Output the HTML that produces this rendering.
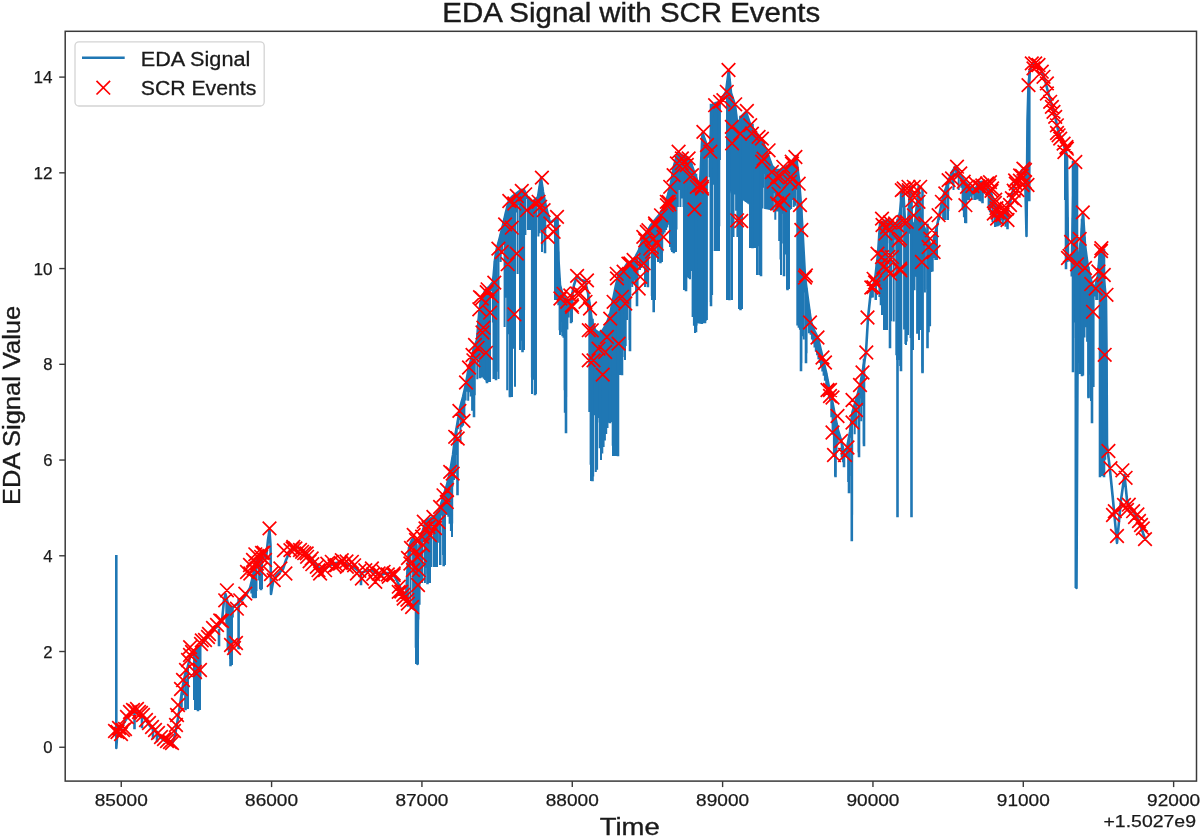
<!DOCTYPE html><html><head><meta charset="utf-8"><style>html,body{margin:0;padding:0;background:#fff;overflow:hidden}svg{display:block;filter:blur(0.4px)}text{font-family:"Liberation Sans",sans-serif;fill:#1a1a1a;stroke:#1a1a1a;stroke-width:0.25px}</style></head><body>
<svg width="1200" height="837" viewBox="0 0 1200 837">
<rect width="1200" height="837" fill="#fff"/>
<defs><clipPath id="c"><rect x="65.2" y="31.3" width="1131.3" height="749.8000000000001"/></clipPath></defs>
<g clip-path="url(#c)">
<path d="M181.8 692.8V707.8M183.1 684.5V695.3M184.4 678.0V683.0M185.7 673.0V709.0M187.0 669.4V671.8M188.3 664.5V667.4M188.0 665.8V709.0M194.0 651.5V700.0M195.3 650.9V668.5M196.6 650.2V710.0M197.9 648.9V710.0M199.2 647.2V705.1M200.5 645.6V679.2M195.0 651.0V710.0M200.0 646.2V710.0M225.0 596.0V597.7M226.3 597.2V624.5M227.6 602.4V650.3M228.9 604.9V654.7M230.2 606.2V659.0M231.5 607.5V635.4M232.8 607.4V617.6M232.0 608.0V665.0M251.3 582.8V593.5M252.6 577.6V596.9M253.9 571.0V598.0M255.2 564.5V585.8M256.5 561.0V591.0M257.8 557.5V567.4M259.1 556.7V580.5M260.4 556.4V582.0M261.7 556.1V589.0M253.0 576.0V598.0M256.0 562.3V598.0M260.0 556.5V589.0M262.0 556.0V589.0M404.0 595.0V596.0M405.3 597.6V600.6M406.6 587.4V600.9M407.9 564.1V606.8M409.2 547.4V575.4M410.5 543.5V608.2M411.8 540.4V546.9M413.1 538.2V609.4M414.4 540.1V609.8M415.7 542.9V647.8M417.0 566.4V588.1M418.3 580.8V619.5M419.6 545.3V604.8M420.9 537.0V582.0M416.0 543.7V664.0M418.0 612.0V664.0M421.0 536.7V538.8M422.3 532.3V578.9M423.6 528.2V541.9M424.9 524.3V583.0M426.2 520.9V567.8M427.5 520.1V573.7M428.8 519.3V583.0M430.1 518.5V534.3M431.4 517.8V567.0M432.7 517.0V522.0M434.0 516.2V567.0M435.3 515.4V567.0M436.6 513.9V538.9M437.9 511.7V542.7M439.2 509.4V523.6M440.5 506.3V565.0M441.8 501.8V515.4M443.1 497.4V554.9M444.4 493.2V532.9M445.7 489.1V496.1M447.0 485.0V515.1M448.3 479.4V516.7M449.6 473.7V523.8M450.9 466.9V531.0M452.2 459.5V523.6M422.0 533.3V583.0M430.0 518.6V583.0M437.0 513.2V567.0M440.0 508.0V565.0M445.0 491.3V565.0M452.0 460.7V537.0M463.0 397.0V402.2M464.3 391.4V407.0M465.6 385.7V400.6M466.9 378.6V382.3M468.2 371.2V400.8M469.5 366.0V392.3M470.8 360.8V396.6M472.1 355.6V410.8M473.4 350.4V403.4M474.7 346.1V395.3M476.0 342.7V349.0M477.3 336.2V379.3M478.6 320.0V345.5M479.9 308.2V378.0M481.2 299.5V377.4M482.5 296.6V377.5M483.8 293.7V378.8M485.1 290.9V380.1M486.4 289.6V381.4M487.7 288.3V382.0M489.0 287.0V382.0M490.3 285.4V289.5M491.6 283.7V291.3M492.9 282.1V322.6M494.2 268.8V379.0M495.5 257.0V379.0M496.8 249.2V260.5M498.1 244.0V371.7M499.4 239.2V247.3M500.7 234.2V262.0M502.0 229.0V253.3M503.3 223.7V244.7M504.6 218.1V327.0M505.9 212.4V297.8M507.2 207.2V390.3M508.5 202.0V334.2M509.8 199.2V396.5M511.1 197.9V209.5M512.4 196.6V265.0M513.7 195.5V348.7M515.0 194.5V386.8M516.3 193.5V212.4M517.6 192.5V273.9M518.9 191.6V205.2M520.2 190.6V350.0M521.5 190.0V340.7M522.8 190.0V324.9M524.1 190.2V310.3M525.4 192.8V235.0M526.7 195.4V199.1M528.0 198.0V230.0M529.3 200.6V230.0M530.6 201.9V230.0M531.9 201.5V377.6M533.2 201.2V379.7M534.5 200.5V264.6M535.8 199.2V379.4M537.1 197.9V202.8M538.4 194.5V236.5M539.7 186.2V233.3M541.0 178.0V230.0M542.3 187.1V245.2M543.6 195.0V232.8M544.9 201.5V243.9M546.2 207.8V220.0M547.5 213.0V219.6M548.8 218.2V220.2M552.7 221.0V221.6M555.3 218.9V283.7M556.6 217.8V300.0M557.9 234.2V300.0M474.0 348.0V416.0M487.0 289.0V382.0M490.0 285.8V382.0M493.5 276.5V379.0M498.5 242.5V379.0M510.0 199.0V397.0M512.0 197.0V397.0M520.0 190.8V350.0M524.0 190.0V350.0M528.0 198.0V230.0M532.0 201.5V394.0M536.0 199.0V394.0M542.0 185.0V252.0M545.0 202.0V252.0M555.0 219.1V300.0M557.0 217.4V300.0M558.3 251.4V305.2M559.6 278.3V330.3M560.9 288.3V332.2M562.2 293.1V321.8M563.5 296.5V337.7M564.8 297.8V412.8M566.1 299.1V397.3M567.4 300.0V329.6M568.7 300.0V317.4M570.0 300.0V311.4M571.3 298.5V322.0M572.6 292.0V308.8M560.0 285.0V335.0M566.0 299.0V432.0M572.0 295.0V322.0M588.0 293.0V310.0M589.3 302.1V412.1M590.6 311.5V464.8M591.9 321.2V479.2M593.2 325.2V476.6M594.5 328.7V415.2M595.8 330.6V472.0M597.1 331.6V469.8M598.4 332.5V417.9M599.7 332.5V422.4M601.0 331.5V460.0M602.3 330.5V453.5M603.6 329.0V447.0M604.9 326.8V440.5M606.2 324.5V434.0M607.5 321.3V428.0M608.8 318.0V422.8M610.1 314.5V422.0M611.4 308.0V422.0M612.7 301.5V445.8M614.0 295.0V456.0M615.3 288.5V456.0M616.6 282.8V456.0M617.9 278.0V383.1M619.2 273.8V375.0M620.5 272.5V375.0M621.8 271.2V375.0M623.1 269.9V350.5M624.4 267.9V357.0M625.7 266.0V346.0M627.0 264.0V320.0M628.3 263.4V307.5M629.6 262.7V340.0M630.9 262.1V283.9M632.2 260.8V287.0M633.5 259.5V283.8M634.8 258.2V280.5M636.1 255.8V293.7M637.4 253.2V287.0M591.0 314.5V481.0M613.0 300.0V456.0M617.0 281.3V456.0M622.0 271.0V375.0M625.0 267.0V360.0M630.0 262.5V350.0M637.0 254.0V305.0M644.0 236.5V239.1M645.3 234.6V275.7M646.6 232.6V282.6M647.9 230.4V287.0M649.2 228.2V242.7M650.5 225.9V246.9M651.8 224.0V296.0M653.1 222.4V227.9M654.4 220.8V300.0M655.7 219.2V258.0M657.0 217.6V245.4M658.3 216.0V238.3M659.6 214.5V250.7M660.9 212.4V262.0M662.2 210.2V252.5M663.5 207.9V231.2M664.8 204.7V223.1M666.1 201.0V213.7M667.4 197.3V218.5M668.7 192.2V202.8M670.0 187.0V247.1M671.3 181.3V250.3M672.6 173.9V252.0M673.9 166.6V201.7M675.2 161.5V219.6M676.5 156.7V229.5M677.8 153.2V207.0M679.1 153.9V190.1M680.4 154.7V207.0M681.7 155.3V198.4M683.0 156.0V179.3M645.0 235.0V287.0M648.0 230.2V287.0M652.0 223.8V300.0M655.0 220.0V300.0M658.0 216.4V262.0M662.0 210.5V262.0M672.0 177.3V252.0M676.0 158.6V252.0M683.5 156.2V207.0M684.8 156.9V290.0M686.1 157.7V288.7M687.4 158.4V277.3M688.7 159.2V278.3M690.0 160.0V279.2M691.3 163.9V271.1M692.6 167.8V317.0M693.9 171.7V325.7M695.2 175.2V287.1M696.5 178.7V325.5M697.8 181.3V323.2M699.1 183.5V323.4M700.4 176.7V323.7M701.7 149.6V323.9M703.0 134.4V323.2M704.3 138.1V276.0M705.6 141.9V321.1M706.9 144.3V320.1M708.2 146.3V157.8M709.5 148.2V177.3M710.8 134.9V302.0M712.1 112.0V295.1M713.4 104.5V184.7M714.7 103.7V251.0M716.0 103.0V251.0M717.3 102.7V251.0M718.6 102.4V251.0M719.9 102.0V160.1M684.0 156.5V290.0M686.0 157.6V290.0M695.0 174.7V333.0M702.0 143.4V324.0M719.0 102.2V251.0M743.0 115.0V200.0M744.3 113.7V200.9M745.6 112.4V201.9M746.9 114.7V202.8M748.2 118.6V203.7M749.5 122.5V204.6M750.8 125.2V205.2M752.1 127.1V205.6M753.4 129.1V206.0M754.7 130.9V206.4M756.0 132.5V206.8M757.3 134.1V207.2M758.6 135.7V207.6M759.9 137.4V208.0M761.2 139.0V208.2M762.5 141.2V208.5M763.8 144.3V173.9M765.1 147.4V209.0M766.4 150.6V209.3M767.7 154.0V209.5M769.0 157.6V209.8M770.3 161.2V210.1M771.6 164.9V210.3M772.9 166.9V210.6M774.2 168.2V193.3M775.5 169.5V211.1M776.8 170.0V211.4M778.1 170.0V211.6M779.4 170.0V211.9M780.7 169.6V211.9M782.0 168.8V211.6M783.3 168.0V211.3M784.6 167.2V211.1M785.9 166.6V210.8M787.2 166.1V210.6M788.5 165.6V210.3M789.8 165.1V210.0M791.1 163.4V209.1M792.4 161.4V173.1M793.7 159.5V206.9M795.0 157.5V205.8M780.0 170.0V212.0M640.0 247.0V270.0M641.3 243.1V267.9M642.6 239.2V265.8M643.9 236.7V263.8M645.2 234.7V261.7M646.5 232.8V258.1M647.8 230.6V258.1M649.1 228.3V256.3M650.4 226.1V242.2M651.7 224.1V252.6M653.0 222.5V250.8M654.3 220.9V249.0M655.6 219.3V247.0M656.9 217.7V245.0M658.2 216.2V242.9M659.5 214.6V240.8M660.8 212.6V238.7M662.1 210.3V236.6M663.4 208.1V234.6M664.7 205.0V232.5M666.0 201.3V230.0M667.3 197.6V227.4M668.6 192.6V224.8M669.9 187.4V222.2M671.2 181.9V216.7M672.5 174.5V211.0M673.8 167.1V176.6M675.1 161.9V173.8M676.4 157.1V197.2M677.7 153.1V194.6M679.0 153.9V172.2M680.3 154.6V163.3M681.6 155.3V192.0M682.9 155.9V189.5M441.0 504.6V507.4M442.3 500.1V507.2M443.6 495.7V515.0M444.9 491.6V514.1M446.2 487.5V508.8M447.5 482.8V502.4M448.8 477.2V498.6M450.1 471.4V486.2M451.4 464.1V493.0M452.7 456.7V486.5M454.0 446.0V480.0M455.3 435.3V473.5M456.6 427.9V454.9M457.9 420.6V429.3M459.2 412.8V419.9M460.5 406.2V441.0M461.8 401.4V427.2M463.1 396.6V425.8M464.4 390.9V418.4M465.7 385.3V387.1M467.0 378.0V391.8M468.3 370.8V396.5M469.6 365.6V390.0M470.9 360.4V372.2M472.2 355.2V375.6M473.5 350.0V370.5M474.8 345.9V364.5M476.1 342.4V358.9M477.4 335.0V339.8M478.7 318.7V324.5M444.0 494.4V515.0M808.0 300.0V325.0M809.3 309.5V329.9M810.6 319.1V334.7M811.9 324.4V339.6M813.2 327.9V343.6M814.5 331.0V347.5M815.8 333.6V351.4M817.1 336.2V355.3M818.4 339.7V359.2M819.7 345.2V363.1M821.0 350.7V367.2M822.3 356.3V371.5M823.6 361.8V375.7M824.9 367.3V380.8M826.2 373.0V386.3M827.5 379.5V391.9M828.8 386.0V398.3M830.1 391.8V398.6M831.4 397.4V412.6M832.7 403.7V427.0M834.0 410.7V453.0M835.3 417.4V435.5M836.6 423.5V447.2M835.0 416.0V476.0M727.0 84.2V300.0M728.3 74.1V300.0M729.6 79.6V193.3M730.9 92.0V191.4M732.2 96.6V160.7M733.5 100.5V237.0M734.8 104.4V194.5M736.1 114.2V210.8M737.4 125.2V237.0M738.7 122.9V232.7M740.0 119.6V309.0M741.3 116.7V309.0M742.6 115.4V144.7M732.0 96.0V300.0M739.0 122.1V309.0M742.0 116.0V309.0M750.0 124.0V248.0M751.3 125.9V248.0M752.6 127.9V248.0M753.9 129.8V248.0M755.2 131.5V174.4M756.5 133.1V223.0M757.8 134.7V275.0M759.1 136.4V246.2M760.4 138.0V199.0M761.7 139.6V150.6M763.0 142.4V187.7M764.3 145.5V156.1M765.6 148.6V205.0M766.9 151.8V205.0M768.2 155.4V203.0M769.5 159.0V182.3M755.0 131.2V248.0M757.0 133.8V275.0M760.0 137.5V275.0M767.0 152.0V205.0M774.0 168.0V190.6M775.3 169.3V219.7M776.6 170.0V176.4M777.9 170.0V193.3M779.2 170.0V241.1M780.5 169.7V259.5M781.8 168.9V243.4M783.1 168.1V213.8M784.4 167.4V238.3M785.7 166.7V254.4M787.0 166.2V289.0M788.3 165.7V289.0M789.6 165.2V198.3M790.9 163.7V169.2M792.2 161.7V200.0M793.5 159.8V197.5M794.8 157.8V200.0M781.0 169.4V275.0M787.0 166.2V289.0M789.0 165.4V289.0M796.0 156.0V190.0M797.3 166.4V325.5M798.6 176.8V327.7M799.9 191.2V329.8M801.2 208.3V363.0M802.5 230.0V336.2M803.8 254.4V339.5M805.1 277.8V292.6M806.4 287.7V353.2M807.7 297.7V311.6M809.0 307.3V333.3M810.3 316.9V329.3M811.6 323.6V326.0M801.0 205.0V370.0M806.0 284.7V362.0M830.0 391.3V400.0M831.3 397.0V417.3M832.6 403.2V434.7M833.9 410.1V456.2M835.2 416.9V473.4M836.5 423.0V452.7M837.8 429.1V442.8M839.1 433.7V437.6M840.4 438.0V440.5M841.7 442.8V457.6M843.0 448.0V462.3M844.3 451.6V457.6M845.6 449.9V451.6M846.9 448.1V457.5M848.2 441.6V482.1M849.5 434.7V476.0M850.8 425.6V437.8M852.1 415.2V514.7M853.4 408.9V421.2M854.7 404.5V434.3M856.0 400.0V426.8M857.3 395.5V405.8M858.6 390.9V452.5M859.9 386.4V398.6M861.2 379.3V421.3M862.5 372.0V406.1M863.8 364.6V443.7M835.0 416.0V476.0M849.0 437.3V492.0M852.0 416.0V540.0M859.0 389.5V456.0M864.0 363.4V445.0M871.6 288.5V297.7M872.9 285.3V297.4M874.2 282.0V285.9M875.5 275.7V300.0M876.8 264.4V276.9M878.1 252.5V281.2M879.4 233.0V297.0M880.7 223.5V305.2M882.0 222.5V315.0M883.3 221.5V302.5M884.6 220.9V330.0M885.9 220.6V330.0M887.2 220.3V243.2M888.5 220.0V229.9M889.8 221.1V269.9M891.1 222.3V321.2M892.4 223.5V252.0M893.7 224.3V321.5M895.0 225.0V239.7M896.3 225.6V355.3M897.6 223.2V330.9M898.9 217.1V360.0M900.2 210.3V366.0M901.5 199.0V240.3M902.8 187.7V207.5M904.1 205.8V329.4M905.4 222.4V344.0M906.7 223.7V341.5M908.0 225.0V335.0M909.3 200.3V233.7M910.6 197.8V338.0M911.9 221.2V320.6M913.2 223.4V237.4M914.5 223.8V290.2M915.8 215.8V276.7M917.1 202.4V333.7M918.4 189.1V272.8M919.7 200.8V292.1M921.0 220.0V330.0M922.3 223.1V366.4M923.6 226.2V261.3M924.9 229.4V292.4M926.2 232.6V246.4M927.5 236.6V289.4M928.8 240.5V332.3M930.1 244.4V326.3M931.4 248.4V271.9M932.7 244.3V271.4M934.0 238.8V258.1M935.3 233.2V260.0M936.6 227.7V260.0M937.9 221.7V223.6M939.2 215.4V220.0M940.5 209.1V215.7M941.8 202.8V205.4M943.1 196.7V220.0M944.4 192.9V220.0M945.7 189.1V220.0M947.0 185.3V197.0M948.3 181.5V211.0M949.6 178.0V184.2M950.9 174.8V179.3M952.2 171.7V183.4M953.5 169.8V190.0M954.8 167.8V171.4M956.1 166.2V178.2M957.4 168.8V175.6M958.7 171.4V190.0M960.0 173.7V178.5M961.3 176.0V187.7M962.6 178.3V210.4M963.9 180.1V217.2M965.2 181.7V201.8M966.5 183.4V199.6M967.8 184.8V200.2M969.1 186.1V200.0M970.4 187.4V196.7M971.7 188.3V200.0M973.0 189.0V195.3M974.3 189.6V200.0M975.6 188.8V200.1M976.9 186.2V199.1M978.2 183.6V199.4M979.5 182.0V201.1M980.8 182.0V201.4M982.1 182.0V188.7M983.4 182.3V193.1M984.7 183.3V193.5M986.0 184.2V186.9M987.3 185.6V195.4M988.6 188.2V208.0M989.9 190.8V212.3M991.2 193.5V208.6M992.5 197.1V222.0M993.8 200.7V207.5M995.1 204.3V227.0M996.4 207.7V226.4M997.7 211.2V219.1M999.0 212.2V225.4M1000.3 212.6V225.2M1001.6 212.9V220.5M1002.9 212.3V225.1M1004.2 211.4V220.2M1005.5 210.4V226.7M1006.8 208.4V223.3M1008.1 205.8V209.5M1009.4 203.2V204.8M1010.7 199.2V201.7M1012.0 194.0V198.9M876.0 271.3V300.0M884.0 221.0V330.0M887.0 220.3V330.0M890.0 221.3V347.0M897.0 226.0V360.0M901.0 203.3V370.0M906.0 223.0V345.0M913.0 223.3V350.0M919.0 190.4V340.0M922.5 223.6V372.0M937.0 226.0V260.0M948.0 182.3V220.0M965.0 181.5V223.0M995.0 204.0V227.0M1101.3 249.4V441.0M1102.6 258.3V284.1M1103.9 278.4V449.7M1105.2 292.0V452.0M1106.5 350.0V454.2M1065.0 149.3V200.0M1066.3 153.7V262.0M1067.6 217.2V262.0M1068.9 257.3V260.7M1070.2 256.4V261.6M1071.5 255.4V276.5M1072.8 217.8V236.3M1074.1 162.1V322.6M1075.4 164.1V338.0M1078.0 262.0V363.1M1079.3 252.5V374.0M1080.6 242.9V305.6M1081.9 227.9V363.5M1083.2 216.2V375.6M1084.5 237.0V337.4M1085.8 251.1V327.2M1087.1 261.1V341.8M1088.4 269.6V396.2M1089.7 274.8V374.7M1091.0 280.0V401.0M1092.3 284.4V379.2M1093.6 286.1V387.0M1094.9 287.9V296.4M1096.2 282.8V300.0M1097.5 277.2V300.0M1098.8 265.0V291.5M1100.1 250.0V476.0M1101.4 249.3V476.0M1102.7 259.8V476.0M1104.0 280.0V378.4M1105.3 293.0V459.8M1066.0 152.7V262.0M1075.5 164.2V588.0M1080.0 247.3V374.0M1088.5 270.0V397.0M1092.0 284.0V422.0M1100.0 250.0V476.0M1104.0 280.0V476.0" stroke="#1f77b4" stroke-width="2.0" fill="none" stroke-linecap="butt"/>
<path d="M185.5 680.0V709.0 M198.0 655.0V710.0 M195.0 655.0V698.0 M230.5 608.0V665.0 M219.0 630.0V645.0 M255.0 565.0V597.0 M261.0 557.0V589.0 M253.5 577.0V597.0 M361.0 573.0V584.0 M427.5 520.0V583.0 M435.0 516.0V565.0 M443.7 502.0V565.0 M450.0 485.0V515.0 M457.5 440.0V494.0 M474.0 350.0V416.0 M480.0 310.0V377.0 M487.0 290.0V382.0 M496.0 255.0V379.0 M510.0 200.0V396.0 M522.5 190.0V351.0 M535.0 200.0V394.0 M545.0 207.0V252.0 M566.0 300.0V432.0 M592.5 320.0V480.0 M600.0 340.0V447.0 M610.0 315.0V422.0 M618.0 274.0V455.0 M630.0 262.0V350.0 M477.5 340.0V358.0 M495.0 262.0V340.0 M565.0 300.0V389.0 M562.6 296.0V335.0 M571.0 300.0V322.0 M591.0 320.0V389.0 M609.4 315.0V389.0 M622.0 270.0V374.0 M637.0 255.0V305.0 M647.9 232.0V286.0 M653.7 222.0V311.0 M660.4 214.0V262.0 M673.8 170.0V252.0 M686.0 157.0V290.0 M696.0 175.0V331.0 M705.0 145.0V322.0 M711.0 105.0V305.0 M719.0 102.0V225.0 M729.5 80.0V299.0 M740.5 117.0V309.0 M752.5 125.0V247.0 M761.0 140.0V275.0 M784.0 168.0V275.0 M787.5 166.0V289.0 M799.0 180.0V322.0 M801.0 205.0V370.0 M806.0 290.0V362.0 M835.5 420.0V476.0 M844.0 452.0V466.0 M849.0 445.0V492.0 M851.8 430.0V540.0 M859.0 390.0V456.0 M864.0 360.0V445.0 M890.0 222.0V347.0 M897.5 220.0V516.0 M901.0 192.0V370.0 M911.5 187.0V516.0 M922.5 190.0V372.0 M927.5 225.0V347.0 M966.0 184.0V222.0 M982.5 182.0V202.0 M997.5 212.0V225.0 M1007.5 210.0V228.0 M1066.0 150.0V268.0 M1073.0 162.0V371.0 M1077.0 165.0V374.0 M1082.0 220.0V375.0 M1088.5 268.0V397.0 M1092.0 284.0V422.0 M1100.0 250.0V476.0 M1104.0 250.0V476.0 M1029.3 72.0V200.0 M134.5 713.0V728.0 M142.0 715.0V727.0 M153.0 728.0V738.0 M157.0 732.0V741.0 M238.6 600.0V648.0" stroke="#1f77b4" stroke-width="2.6" fill="none" stroke-linecap="square"/>
<path d="M116.3 556.3 L116.3 748.0 L117.5 731.0 L121.0 729.0 L125.0 721.0 L130.0 714.0 L134.0 711.0 L137.5 711.0 L141.0 714.0 L145.0 719.0 L150.0 726.0 L155.0 731.0 L160.0 737.0 L165.0 741.0 L170.0 743.0 L173.0 742.0 L175.0 735.0 L177.0 724.0 L179.0 712.0 L181.0 698.0 L183.0 685.0 L185.0 675.0 L187.5 668.0 L190.0 657.0 L193.0 652.0 L197.0 650.0 L201.0 645.0 L205.0 640.0 L209.0 635.0 L213.0 630.0 L218.0 626.0 L222.0 621.0 L224.0 600.0 L225.5 594.0 L228.0 604.0 L232.0 608.0 L237.0 604.0 L242.0 600.0 L246.0 595.0 L250.0 588.0 L253.0 576.0 L255.0 565.0 L258.0 557.0 L262.0 556.0 L266.0 558.0 L268.0 540.0 L269.5 530.0 L270.5 545.0 L271.0 594.0 L273.0 582.0 L276.0 576.0 L280.0 572.0 L283.0 569.0 L286.0 560.0 L290.0 551.0 L294.0 548.0 L298.0 547.0 L302.0 550.0 L306.0 553.0 L312.0 559.0 L317.0 566.0 L321.0 569.0 L326.0 568.0 L331.0 565.0 L336.0 563.0 L341.0 562.0 L346.0 564.0 L351.0 566.0 L356.0 569.0 L361.0 573.0 L366.0 571.0 L371.0 570.0 L376.0 573.0 L381.0 575.0 L386.0 573.0 L391.0 573.0 L395.0 577.0 L399.0 585.0 L403.0 593.0 L406.0 599.0 L407.5 570.0 L409.0 548.0 L411.0 542.0 L413.0 538.0 L415.0 541.0 L416.5 545.0 L417.2 575.0 L417.5 664.0 L418.5 560.0 L420.0 540.0 L423.0 530.0 L426.0 521.0 L431.0 518.0 L436.0 515.0 L440.0 508.0 L443.5 496.0 L447.0 485.0 L450.0 472.0 L453.0 455.0 L455.0 437.0 L458.0 420.0 L460.0 408.0 L463.0 397.0 L466.0 384.0 L468.0 372.0 L471.0 360.0 L474.0 348.0 L477.0 340.0 L479.0 315.0 L481.0 300.0 L485.0 291.0 L489.0 287.0 L493.0 282.0 L495.0 260.0 L497.0 248.0 L500.0 237.0 L503.0 225.0 L506.0 212.0 L509.0 200.0 L513.0 196.0 L517.0 193.0 L521.0 190.0 L524.0 190.0 L527.0 196.0 L530.0 202.0 L534.0 201.0 L538.0 197.0 L541.0 178.0 L543.0 192.0 L546.0 207.0 L550.0 223.0 L554.0 220.0 L557.5 217.0 L558.5 260.0 L560.0 285.0 L563.0 296.0 L567.0 300.0 L571.0 300.0 L574.0 285.0 L577.0 276.0 L581.0 280.0 L585.0 281.0 L588.0 293.0 L590.0 307.0 L592.0 322.0 L595.0 330.0 L599.0 333.0 L603.0 330.0 L606.0 325.0 L610.0 315.0 L613.0 300.0 L616.0 285.0 L619.0 274.0 L623.0 270.0 L627.0 264.0 L631.0 262.0 L635.0 258.0 L639.0 250.0 L643.0 238.0 L647.0 232.0 L651.0 225.0 L655.0 220.0 L660.0 214.0 L664.0 207.0 L667.5 197.0 L671.0 183.0 L674.0 166.0 L677.5 153.0 L681.0 155.0 L685.0 157.0 L690.0 160.0 L694.0 172.0 L697.0 180.0 L700.0 185.0 L702.5 133.0 L706.0 143.0 L710.0 149.0 L712.5 105.0 L716.0 103.0 L720.0 102.0 L723.0 97.0 L726.0 92.0 L728.7 71.0 L731.0 93.0 L735.0 105.0 L737.5 126.0 L741.0 117.0 L746.0 112.0 L750.0 124.0 L754.0 130.0 L758.0 135.0 L762.0 140.0 L767.0 152.0 L772.0 166.0 L776.0 170.0 L780.0 170.0 L785.0 167.0 L790.0 165.0 L796.0 156.0 L799.0 180.0 L801.0 205.0 L802.5 230.0 L805.0 277.0 L808.0 300.0 L811.0 322.0 L814.0 330.0 L818.0 338.0 L822.0 355.0 L826.0 372.0 L829.0 387.0 L832.0 400.0 L835.0 416.0 L838.0 430.0 L841.0 440.0 L844.0 452.0 L847.0 448.0 L850.0 432.0 L852.5 412.0 L856.0 400.0 L860.0 386.0 L862.5 372.0 L866.0 352.0 L868.0 318.0 L871.0 290.0 L875.0 280.0 L878.0 254.0 L880.0 224.0 L884.0 221.0 L888.6 220.0 L893.0 224.0 L897.0 226.0 L900.0 212.0 L903.0 186.0 L905.0 222.0 L908.0 225.0 L910.0 187.0 L912.0 223.0 L915.0 224.0 L918.7 186.0 L921.0 220.0 L926.0 232.0 L931.6 249.0 L937.0 226.0 L943.0 197.0 L948.8 180.0 L952.0 172.0 L956.0 166.0 L959.0 172.0 L963.0 179.0 L967.0 184.0 L971.0 188.0 L975.0 190.0 L979.0 182.0 L983.0 182.0 L987.0 185.0 L991.0 193.0 L995.0 204.0 L998.0 212.0 L1002.0 213.0 L1006.0 210.0 L1010.0 202.0 L1014.0 186.0 L1018.0 178.0 L1022.0 170.0 L1025.0 168.0 L1026.5 236.0 L1027.5 120.0 L1028.5 85.0 L1030.0 70.0 L1032.0 64.0 L1035.0 63.5 L1038.5 65.0 L1041.8 71.7 L1045.0 80.0 L1048.0 92.0 L1051.0 102.0 L1055.0 116.0 L1058.0 130.0 L1061.0 138.0 L1064.0 146.0 L1067.0 156.0 L1068.0 258.0 L1072.0 255.0 L1074.0 162.0 L1076.0 165.0 L1076.5 588.0 L1078.0 262.0 L1081.0 240.0 L1083.0 213.0 L1085.0 245.0 L1088.0 268.0 L1092.0 284.0 L1095.0 288.0 L1098.0 275.0 L1100.0 250.0 L1102.0 249.0 L1104.0 280.0 L1106.0 300.0 L1106.5 350.0 L1107.0 445.0 L1110.0 470.0 L1113.0 500.0 L1117.0 543.0 L1121.0 500.0 L1124.5 475.0 L1127.0 500.0 L1131.0 509.0 L1136.0 515.0 L1141.0 527.0 L1145.0 539.0" stroke="#1f77b4" stroke-width="2.6" fill="none" stroke-linejoin="round" stroke-linecap="square"/>
<path d="M108.2 724.2l13.6 13.6m0 -13.6l-13.6 13.6M110.7 725.2l13.6 13.6m0 -13.6l-13.6 13.6M112.2 721.2l13.6 13.6m0 -13.6l-13.6 13.6M114.2 727.2l13.6 13.6m0 -13.6l-13.6 13.6M116.2 723.2l13.6 13.6m0 -13.6l-13.6 13.6M118.2 722.2l13.6 13.6m0 -13.6l-13.6 13.6M120.2 710.2l13.6 13.6m0 -13.6l-13.6 13.6M123.2 705.2l13.6 13.6m0 -13.6l-13.6 13.6M126.2 703.2l13.6 13.6m0 -13.6l-13.6 13.6M128.2 704.2l13.6 13.6m0 -13.6l-13.6 13.6M130.2 702.2l13.6 13.6m0 -13.6l-13.6 13.6M132.2 705.2l13.6 13.6m0 -13.6l-13.6 13.6M134.2 706.2l13.6 13.6m0 -13.6l-13.6 13.6M136.2 708.2l13.6 13.6m0 -13.6l-13.6 13.6M139.2 713.2l13.6 13.6m0 -13.6l-13.6 13.6M142.2 716.2l13.6 13.6m0 -13.6l-13.6 13.6M145.2 720.2l13.6 13.6m0 -13.6l-13.6 13.6M148.2 723.2l13.6 13.6m0 -13.6l-13.6 13.6M151.2 726.2l13.6 13.6m0 -13.6l-13.6 13.6M154.2 730.2l13.6 13.6m0 -13.6l-13.6 13.6M157.2 732.2l13.6 13.6m0 -13.6l-13.6 13.6M160.2 734.2l13.6 13.6m0 -13.6l-13.6 13.6M163.2 735.2l13.6 13.6m0 -13.6l-13.6 13.6M165.2 736.2l13.6 13.6m0 -13.6l-13.6 13.6M167.2 724.2l13.6 13.6m0 -13.6l-13.6 13.6M169.2 718.2l13.6 13.6m0 -13.6l-13.6 13.6M170.2 708.2l13.6 13.6m0 -13.6l-13.6 13.6M171.2 698.2l13.6 13.6m0 -13.6l-13.6 13.6M174.2 682.2l13.6 13.6m0 -13.6l-13.6 13.6M176.2 673.2l13.6 13.6m0 -13.6l-13.6 13.6M179.2 663.2l13.6 13.6m0 -13.6l-13.6 13.6M181.2 653.2l13.6 13.6m0 -13.6l-13.6 13.6M183.2 648.2l13.6 13.6m0 -13.6l-13.6 13.6M185.2 645.2l13.6 13.6m0 -13.6l-13.6 13.6M188.2 665.2l13.6 13.6m0 -13.6l-13.6 13.6M193.2 663.2l13.6 13.6m0 -13.6l-13.6 13.6M194.2 637.2l13.6 13.6m0 -13.6l-13.6 13.6M198.2 633.2l13.6 13.6m0 -13.6l-13.6 13.6M201.2 630.2l13.6 13.6m0 -13.6l-13.6 13.6M202.2 627.2l13.6 13.6m0 -13.6l-13.6 13.6M206.2 621.2l13.6 13.6m0 -13.6l-13.6 13.6M210.2 618.2l13.6 13.6m0 -13.6l-13.6 13.6M215.2 614.2l13.6 13.6m0 -13.6l-13.6 13.6M224.2 638.2l13.6 13.6m0 -13.6l-13.6 13.6M227.2 641.2l13.6 13.6m0 -13.6l-13.6 13.6M229.2 636.2l13.6 13.6m0 -13.6l-13.6 13.6M262.7 521.6l13.6 13.6m0 -13.6l-13.6 13.6M248.5 547.5l13.6 13.6m0 -13.6l-13.6 13.6M254.3 550.0l13.6 13.6m0 -13.6l-13.6 13.6M256.8 545.8l13.6 13.6m0 -13.6l-13.6 13.6M250.2 556.7l13.6 13.6m0 -13.6l-13.6 13.6M246.8 561.7l13.6 13.6m0 -13.6l-13.6 13.6M243.5 566.7l13.6 13.6m0 -13.6l-13.6 13.6M264.2 567.2l13.6 13.6m0 -13.6l-13.6 13.6M266.9 573.2l13.6 13.6m0 -13.6l-13.6 13.6M273.6 561.7l13.6 13.6m0 -13.6l-13.6 13.6M278.6 566.7l13.6 13.6m0 -13.6l-13.6 13.6M283.6 543.3l13.6 13.6m0 -13.6l-13.6 13.6M288.6 541.7l13.6 13.6m0 -13.6l-13.6 13.6M295.3 545.0l13.6 13.6m0 -13.6l-13.6 13.6M300.3 550.0l13.6 13.6m0 -13.6l-13.6 13.6M220.1 583.5l13.6 13.6m0 -13.6l-13.6 13.6M233.4 593.5l13.6 13.6m0 -13.6l-13.6 13.6M230.1 601.9l13.6 13.6m0 -13.6l-13.6 13.6M238.5 586.8l13.6 13.6m0 -13.6l-13.6 13.6M213.4 613.6l13.6 13.6m0 -13.6l-13.6 13.6M195.0 633.6l13.6 13.6m0 -13.6l-13.6 13.6M183.3 640.3l13.6 13.6m0 -13.6l-13.6 13.6M218.4 593.5l13.6 13.6m0 -13.6l-13.6 13.6M286.5 540.0l13.6 13.6m0 -13.6l-13.6 13.6M293.2 543.2l13.6 13.6m0 -13.6l-13.6 13.6M299.9 546.6l13.6 13.6m0 -13.6l-13.6 13.6M304.9 551.7l13.6 13.6m0 -13.6l-13.6 13.6M310.0 560.0l13.6 13.6m0 -13.6l-13.6 13.6M313.3 566.7l13.6 13.6m0 -13.6l-13.6 13.6M318.3 563.4l13.6 13.6m0 -13.6l-13.6 13.6M325.0 555.0l13.6 13.6m0 -13.6l-13.6 13.6M330.0 558.4l13.6 13.6m0 -13.6l-13.6 13.6M335.0 553.3l13.6 13.6m0 -13.6l-13.6 13.6M340.1 560.0l13.6 13.6m0 -13.6l-13.6 13.6M345.1 555.0l13.6 13.6m0 -13.6l-13.6 13.6M350.1 566.7l13.6 13.6m0 -13.6l-13.6 13.6M355.1 571.7l13.6 13.6m0 -13.6l-13.6 13.6M358.5 563.4l13.6 13.6m0 -13.6l-13.6 13.6M365.1 561.7l13.6 13.6m0 -13.6l-13.6 13.6M368.5 575.1l13.6 13.6m0 -13.6l-13.6 13.6M371.8 566.7l13.6 13.6m0 -13.6l-13.6 13.6M376.8 565.0l13.6 13.6m0 -13.6l-13.6 13.6M381.9 570.1l13.6 13.6m0 -13.6l-13.6 13.6M386.9 566.7l13.6 13.6m0 -13.6l-13.6 13.6M391.9 585.1l13.6 13.6m0 -13.6l-13.6 13.6M396.9 591.8l13.6 13.6m0 -13.6l-13.6 13.6M401.1 596.8l13.6 13.6m0 -13.6l-13.6 13.6M405.3 600.2l13.6 13.6m0 -13.6l-13.6 13.6M403.6 556.7l13.6 13.6m0 -13.6l-13.6 13.6M406.9 528.2l13.6 13.6m0 -13.6l-13.6 13.6M410.3 550.0l13.6 13.6m0 -13.6l-13.6 13.6M412.0 563.4l13.6 13.6m0 -13.6l-13.6 13.6M415.3 529.9l13.6 13.6m0 -13.6l-13.6 13.6M418.7 521.6l13.6 13.6m0 -13.6l-13.6 13.6M417.0 514.9l13.6 13.6m0 -13.6l-13.6 13.6M452.6 404.1l13.6 13.6m0 -13.6l-13.6 13.6M456.7 414.1l13.6 13.6m0 -13.6l-13.6 13.6M448.4 430.0l13.6 13.6m0 -13.6l-13.6 13.6M450.9 431.7l13.6 13.6m0 -13.6l-13.6 13.6M443.4 465.1l13.6 13.6m0 -13.6l-13.6 13.6M445.9 466.8l13.6 13.6m0 -13.6l-13.6 13.6M436.7 488.5l13.6 13.6m0 -13.6l-13.6 13.6M440.0 495.2l13.6 13.6m0 -13.6l-13.6 13.6M433.3 500.2l13.6 13.6m0 -13.6l-13.6 13.6M426.6 510.2l13.6 13.6m0 -13.6l-13.6 13.6M421.6 520.3l13.6 13.6m0 -13.6l-13.6 13.6M431.7 515.2l13.6 13.6m0 -13.6l-13.6 13.6M459.2 375.7l13.6 13.6m0 -13.6l-13.6 13.6M462.2 360.7l13.6 13.6m0 -13.6l-13.6 13.6M465.7 348.2l13.6 13.6m0 -13.6l-13.6 13.6M468.2 338.2l13.6 13.6m0 -13.6l-13.6 13.6M475.7 325.7l13.6 13.6m0 -13.6l-13.6 13.6M500.9 257.4l13.6 13.6m0 -13.6l-13.6 13.6M487.5 275.8l13.6 13.6m0 -13.6l-13.6 13.6M480.8 282.5l13.6 13.6m0 -13.6l-13.6 13.6M485.0 289.2l13.6 13.6m0 -13.6l-13.6 13.6M475.0 291.7l13.6 13.6m0 -13.6l-13.6 13.6M472.5 302.5l13.6 13.6m0 -13.6l-13.6 13.6M483.3 305.9l13.6 13.6m0 -13.6l-13.6 13.6M476.6 320.9l13.6 13.6m0 -13.6l-13.6 13.6M507.6 307.5l13.6 13.6m0 -13.6l-13.6 13.6M470.8 341.0l13.6 13.6m0 -13.6l-13.6 13.6M479.2 346.0l13.6 13.6m0 -13.6l-13.6 13.6M466.6 353.5l13.6 13.6m0 -13.6l-13.6 13.6M570.3 269.1l13.6 13.6m0 -13.6l-13.6 13.6M553.6 291.7l13.6 13.6m0 -13.6l-13.6 13.6M560.3 295.0l13.6 13.6m0 -13.6l-13.6 13.6M565.3 300.0l13.6 13.6m0 -13.6l-13.6 13.6M570.3 286.6l13.6 13.6m0 -13.6l-13.6 13.6M575.3 278.3l13.6 13.6m0 -13.6l-13.6 13.6M578.7 295.0l13.6 13.6m0 -13.6l-13.6 13.6M582.0 323.4l13.6 13.6m0 -13.6l-13.6 13.6M582.0 353.5l13.6 13.6m0 -13.6l-13.6 13.6M535.1 170.8l13.6 13.6m0 -13.6l-13.6 13.6M515.0 184.1l13.6 13.6m0 -13.6l-13.6 13.6M518.4 187.5l13.6 13.6m0 -13.6l-13.6 13.6M510.0 189.2l13.6 13.6m0 -13.6l-13.6 13.6M502.5 194.2l13.6 13.6m0 -13.6l-13.6 13.6M507.5 196.7l13.6 13.6m0 -13.6l-13.6 13.6M520.1 203.4l13.6 13.6m0 -13.6l-13.6 13.6M528.4 196.7l13.6 13.6m0 -13.6l-13.6 13.6M531.8 195.0l13.6 13.6m0 -13.6l-13.6 13.6M533.4 200.0l13.6 13.6m0 -13.6l-13.6 13.6M536.8 203.4l13.6 13.6m0 -13.6l-13.6 13.6M550.2 210.1l13.6 13.6m0 -13.6l-13.6 13.6M543.5 216.7l13.6 13.6m0 -13.6l-13.6 13.6M546.8 225.1l13.6 13.6m0 -13.6l-13.6 13.6M541.0 230.1l13.6 13.6m0 -13.6l-13.6 13.6M498.3 217.6l13.6 13.6m0 -13.6l-13.6 13.6M505.0 220.9l13.6 13.6m0 -13.6l-13.6 13.6M491.6 241.8l13.6 13.6m0 -13.6l-13.6 13.6M495.0 245.2l13.6 13.6m0 -13.6l-13.6 13.6M510.0 246.8l13.6 13.6m0 -13.6l-13.6 13.6M479.9 285.3l13.6 13.6m0 -13.6l-13.6 13.6M473.2 290.3l13.6 13.6m0 -13.6l-13.6 13.6M580.2 273.6l13.6 13.6m0 -13.6l-13.6 13.6M576.9 280.3l13.6 13.6m0 -13.6l-13.6 13.6M556.8 287.0l13.6 13.6m0 -13.6l-13.6 13.6M563.5 288.7l13.6 13.6m0 -13.6l-13.6 13.6M565.0 298.4l13.6 13.6m0 -13.6l-13.6 13.6M573.2 286.7l13.6 13.6m0 -13.6l-13.6 13.6M583.2 301.7l13.6 13.6m0 -13.6l-13.6 13.6M585.0 323.5l13.6 13.6m0 -13.6l-13.6 13.6M600.1 330.2l13.6 13.6m0 -13.6l-13.6 13.6M591.7 341.9l13.6 13.6m0 -13.6l-13.6 13.6M598.4 345.2l13.6 13.6m0 -13.6l-13.6 13.6M586.7 353.6l13.6 13.6m0 -13.6l-13.6 13.6M595.9 367.8l13.6 13.6m0 -13.6l-13.6 13.6M611.8 336.8l13.6 13.6m0 -13.6l-13.6 13.6M603.4 311.8l13.6 13.6m0 -13.6l-13.6 13.6M606.8 295.0l13.6 13.6m0 -13.6l-13.6 13.6M615.2 290.0l13.6 13.6m0 -13.6l-13.6 13.6M618.5 296.7l13.6 13.6m0 -13.6l-13.6 13.6M610.2 271.6l13.6 13.6m0 -13.6l-13.6 13.6M616.8 264.9l13.6 13.6m0 -13.6l-13.6 13.6M623.5 256.6l13.6 13.6m0 -13.6l-13.6 13.6M626.8 253.2l13.6 13.6m0 -13.6l-13.6 13.6M633.5 270.0l13.6 13.6m0 -13.6l-13.6 13.6M631.9 281.7l13.6 13.6m0 -13.6l-13.6 13.6M636.9 256.6l13.6 13.6m0 -13.6l-13.6 13.6M645.2 244.9l13.6 13.6m0 -13.6l-13.6 13.6M671.8 144.9l13.6 13.6m0 -13.6l-13.6 13.6M675.1 151.6l13.6 13.6m0 -13.6l-13.6 13.6M681.8 151.6l13.6 13.6m0 -13.6l-13.6 13.6M670.1 156.6l13.6 13.6m0 -13.6l-13.6 13.6M666.8 168.3l13.6 13.6m0 -13.6l-13.6 13.6M685.2 168.3l13.6 13.6m0 -13.6l-13.6 13.6M693.5 176.7l13.6 13.6m0 -13.6l-13.6 13.6M695.2 181.7l13.6 13.6m0 -13.6l-13.6 13.6M663.4 180.0l13.6 13.6m0 -13.6l-13.6 13.6M661.8 195.1l13.6 13.6m0 -13.6l-13.6 13.6M660.1 198.4l13.6 13.6m0 -13.6l-13.6 13.6M687.7 202.6l13.6 13.6m0 -13.6l-13.6 13.6M654.2 208.5l13.6 13.6m0 -13.6l-13.6 13.6M648.4 218.5l13.6 13.6m0 -13.6l-13.6 13.6M640.0 225.2l13.6 13.6m0 -13.6l-13.6 13.6M656.7 230.2l13.6 13.6m0 -13.6l-13.6 13.6M646.7 231.9l13.6 13.6m0 -13.6l-13.6 13.6M638.4 233.5l13.6 13.6m0 -13.6l-13.6 13.6M650.1 236.9l13.6 13.6m0 -13.6l-13.6 13.6M643.4 241.9l13.6 13.6m0 -13.6l-13.6 13.6M621.6 256.9l13.6 13.6m0 -13.6l-13.6 13.6M635.0 258.6l13.6 13.6m0 -13.6l-13.6 13.6M609.9 267.0l13.6 13.6m0 -13.6l-13.6 13.6M700.2 138.2l13.6 13.6m0 -13.6l-13.6 13.6M703.6 144.9l13.6 13.6m0 -13.6l-13.6 13.6M725.3 136.5l13.6 13.6m0 -13.6l-13.6 13.6M730.3 213.5l13.6 13.6m0 -13.6l-13.6 13.6M721.7 63.2l13.6 13.6m0 -13.6l-13.6 13.6M720.0 85.0l13.6 13.6m0 -13.6l-13.6 13.6M708.3 98.4l13.6 13.6m0 -13.6l-13.6 13.6M713.3 95.0l13.6 13.6m0 -13.6l-13.6 13.6M716.6 93.3l13.6 13.6m0 -13.6l-13.6 13.6M728.4 97.5l13.6 13.6m0 -13.6l-13.6 13.6M740.1 104.2l13.6 13.6m0 -13.6l-13.6 13.6M696.6 125.1l13.6 13.6m0 -13.6l-13.6 13.6M725.0 120.1l13.6 13.6m0 -13.6l-13.6 13.6M733.4 126.8l13.6 13.6m0 -13.6l-13.6 13.6M743.4 118.4l13.6 13.6m0 -13.6l-13.6 13.6M745.1 126.8l13.6 13.6m0 -13.6l-13.6 13.6M751.8 130.1l13.6 13.6m0 -13.6l-13.6 13.6M755.1 131.8l13.6 13.6m0 -13.6l-13.6 13.6M761.8 143.5l13.6 13.6m0 -13.6l-13.6 13.6M756.8 151.9l13.6 13.6m0 -13.6l-13.6 13.6M765.1 165.2l13.6 13.6m0 -13.6l-13.6 13.6M770.2 170.3l13.6 13.6m0 -13.6l-13.6 13.6M771.8 187.0l13.6 13.6m0 -13.6l-13.6 13.6M783.5 170.3l13.6 13.6m0 -13.6l-13.6 13.6M788.6 150.2l13.6 13.6m0 -13.6l-13.6 13.6M785.2 156.9l13.6 13.6m0 -13.6l-13.6 13.6M791.9 176.9l13.6 13.6m0 -13.6l-13.6 13.6M693.2 178.6l13.6 13.6m0 -13.6l-13.6 13.6M675.0 156.5l13.6 13.6m0 -13.6l-13.6 13.6M680.0 158.2l13.6 13.6m0 -13.6l-13.6 13.6M683.4 169.9l13.6 13.6m0 -13.6l-13.6 13.6M695.1 180.0l13.6 13.6m0 -13.6l-13.6 13.6M690.1 180.0l13.6 13.6m0 -13.6l-13.6 13.6M660.0 195.0l13.6 13.6m0 -13.6l-13.6 13.6M662.5 197.5l13.6 13.6m0 -13.6l-13.6 13.6M648.2 216.7l13.6 13.6m0 -13.6l-13.6 13.6M641.6 223.4l13.6 13.6m0 -13.6l-13.6 13.6M636.5 230.1l13.6 13.6m0 -13.6l-13.6 13.6M644.9 240.2l13.6 13.6m0 -13.6l-13.6 13.6M734.4 214.2l13.6 13.6m0 -13.6l-13.6 13.6M755.3 154.9l13.6 13.6m0 -13.6l-13.6 13.6M767.0 174.9l13.6 13.6m0 -13.6l-13.6 13.6M770.3 196.7l13.6 13.6m0 -13.6l-13.6 13.6M773.2 198.2l13.6 13.6m0 -13.6l-13.6 13.6M793.2 198.2l13.6 13.6m0 -13.6l-13.6 13.6M794.5 223.2l13.6 13.6m0 -13.6l-13.6 13.6M798.2 270.7l13.6 13.6m0 -13.6l-13.6 13.6M803.2 315.7l13.6 13.6m0 -13.6l-13.6 13.6M810.7 330.7l13.6 13.6m0 -13.6l-13.6 13.6M815.7 350.7l13.6 13.6m0 -13.6l-13.6 13.6M818.2 355.7l13.6 13.6m0 -13.6l-13.6 13.6M823.2 383.2l13.6 13.6m0 -13.6l-13.6 13.6M825.7 390.7l13.6 13.6m0 -13.6l-13.6 13.6M845.7 393.2l13.6 13.6m0 -13.6l-13.6 13.6M853.2 378.2l13.6 13.6m0 -13.6l-13.6 13.6M855.7 365.7l13.6 13.6m0 -13.6l-13.6 13.6M859.5 345.7l13.6 13.6m0 -13.6l-13.6 13.6M860.7 310.7l13.6 13.6m0 -13.6l-13.6 13.6M864.5 280.7l13.6 13.6m0 -13.6l-13.6 13.6M868.2 275.7l13.6 13.6m0 -13.6l-13.6 13.6M870.7 246.9l13.6 13.6m0 -13.6l-13.6 13.6M875.7 218.2l13.6 13.6m0 -13.6l-13.6 13.6M883.2 215.7l13.6 13.6m0 -13.6l-13.6 13.6M820.7 383.2l13.6 13.6m0 -13.6l-13.6 13.6M823.2 389.2l13.6 13.6m0 -13.6l-13.6 13.6M830.7 409.2l13.6 13.6m0 -13.6l-13.6 13.6M825.7 425.7l13.6 13.6m0 -13.6l-13.6 13.6M834.2 434.2l13.6 13.6m0 -13.6l-13.6 13.6M827.2 448.2l13.6 13.6m0 -13.6l-13.6 13.6M838.2 448.2l13.6 13.6m0 -13.6l-13.6 13.6M840.7 440.7l13.6 13.6m0 -13.6l-13.6 13.6M845.7 415.7l13.6 13.6m0 -13.6l-13.6 13.6M849.2 403.2l13.6 13.6m0 -13.6l-13.6 13.6M784.9 154.9l13.6 13.6m0 -13.6l-13.6 13.6M776.5 160.0l13.6 13.6m0 -13.6l-13.6 13.6M783.2 175.0l13.6 13.6m0 -13.6l-13.6 13.6M776.5 193.4l13.6 13.6m0 -13.6l-13.6 13.6M799.1 268.7l13.6 13.6m0 -13.6l-13.6 13.6M773.2 170.0l13.6 13.6m0 -13.6l-13.6 13.6M896.9 181.7l13.6 13.6m0 -13.6l-13.6 13.6M902.0 183.4l13.6 13.6m0 -13.6l-13.6 13.6M907.0 180.0l13.6 13.6m0 -13.6l-13.6 13.6M905.3 193.4l13.6 13.6m0 -13.6l-13.6 13.6M907.0 208.5l13.6 13.6m0 -13.6l-13.6 13.6M896.9 215.2l13.6 13.6m0 -13.6l-13.6 13.6M875.2 211.8l13.6 13.6m0 -13.6l-13.6 13.6M880.2 220.2l13.6 13.6m0 -13.6l-13.6 13.6M890.3 218.5l13.6 13.6m0 -13.6l-13.6 13.6M878.6 226.8l13.6 13.6m0 -13.6l-13.6 13.6M891.9 233.5l13.6 13.6m0 -13.6l-13.6 13.6M875.2 250.3l13.6 13.6m0 -13.6l-13.6 13.6M885.2 250.3l13.6 13.6m0 -13.6l-13.6 13.6M880.2 262.0l13.6 13.6m0 -13.6l-13.6 13.6M893.6 263.6l13.6 13.6m0 -13.6l-13.6 13.6M866.8 272.0l13.6 13.6m0 -13.6l-13.6 13.6M866.6 280.3l13.6 13.6m0 -13.6l-13.6 13.6M881.6 250.2l13.6 13.6m0 -13.6l-13.6 13.6M876.6 260.2l13.6 13.6m0 -13.6l-13.6 13.6M883.3 266.9l13.6 13.6m0 -13.6l-13.6 13.6M893.3 261.9l13.6 13.6m0 -13.6l-13.6 13.6M888.3 216.7l13.6 13.6m0 -13.6l-13.6 13.6M893.3 231.8l13.6 13.6m0 -13.6l-13.6 13.6M895.0 183.3l13.6 13.6m0 -13.6l-13.6 13.6M901.7 180.0l13.6 13.6m0 -13.6l-13.6 13.6M908.4 186.6l13.6 13.6m0 -13.6l-13.6 13.6M913.4 180.0l13.6 13.6m0 -13.6l-13.6 13.6M911.7 195.0l13.6 13.6m0 -13.6l-13.6 13.6M900.0 215.1l13.6 13.6m0 -13.6l-13.6 13.6M918.4 216.7l13.6 13.6m0 -13.6l-13.6 13.6M925.1 223.4l13.6 13.6m0 -13.6l-13.6 13.6M923.4 231.8l13.6 13.6m0 -13.6l-13.6 13.6M921.8 240.2l13.6 13.6m0 -13.6l-13.6 13.6M926.8 245.2l13.6 13.6m0 -13.6l-13.6 13.6M915.1 255.2l13.6 13.6m0 -13.6l-13.6 13.6M931.8 208.4l13.6 13.6m0 -13.6l-13.6 13.6M935.1 195.0l13.6 13.6m0 -13.6l-13.6 13.6M938.5 186.6l13.6 13.6m0 -13.6l-13.6 13.6M941.8 173.3l13.6 13.6m0 -13.6l-13.6 13.6M945.2 171.6l13.6 13.6m0 -13.6l-13.6 13.6M950.2 159.9l13.6 13.6m0 -13.6l-13.6 13.6M953.5 166.6l13.6 13.6m0 -13.6l-13.6 13.6M956.9 174.9l13.6 13.6m0 -13.6l-13.6 13.6M960.2 180.0l13.6 13.6m0 -13.6l-13.6 13.6M968.6 176.6l13.6 13.6m0 -13.6l-13.6 13.6M973.6 180.0l13.6 13.6m0 -13.6l-13.6 13.6M980.3 176.6l13.6 13.6m0 -13.6l-13.6 13.6M985.3 181.6l13.6 13.6m0 -13.6l-13.6 13.6M958.6 198.4l13.6 13.6m0 -13.6l-13.6 13.6M987.0 206.7l13.6 13.6m0 -13.6l-13.6 13.6M990.3 211.7l13.6 13.6m0 -13.6l-13.6 13.6M990.7 205.7l13.6 13.6m0 -13.6l-13.6 13.6M995.7 208.2l13.6 13.6m0 -13.6l-13.6 13.6M998.2 203.2l13.6 13.6m0 -13.6l-13.6 13.6M1000.7 213.2l13.6 13.6m0 -13.6l-13.6 13.6M1003.2 198.2l13.6 13.6m0 -13.6l-13.6 13.6M1008.2 193.2l13.6 13.6m0 -13.6l-13.6 13.6M1010.7 183.2l13.6 13.6m0 -13.6l-13.6 13.6M1015.7 178.2l13.6 13.6m0 -13.6l-13.6 13.6M1018.2 163.2l13.6 13.6m0 -13.6l-13.6 13.6M1020.7 178.2l13.6 13.6m0 -13.6l-13.6 13.6M1025.0 56.6l13.6 13.6m0 -13.6l-13.6 13.6M1028.4 56.6l13.6 13.6m0 -13.6l-13.6 13.6M1031.7 58.2l13.6 13.6m0 -13.6l-13.6 13.6M1026.7 61.6l13.6 13.6m0 -13.6l-13.6 13.6M1035.0 64.9l13.6 13.6m0 -13.6l-13.6 13.6M1036.7 70.0l13.6 13.6m0 -13.6l-13.6 13.6M1040.1 76.6l13.6 13.6m0 -13.6l-13.6 13.6M1021.7 78.3l13.6 13.6m0 -13.6l-13.6 13.6M1040.1 86.7l13.6 13.6m0 -13.6l-13.6 13.6M1043.4 95.0l13.6 13.6m0 -13.6l-13.6 13.6M1045.1 100.1l13.6 13.6m0 -13.6l-13.6 13.6M1046.7 105.1l13.6 13.6m0 -13.6l-13.6 13.6M1048.4 110.1l13.6 13.6m0 -13.6l-13.6 13.6M1050.1 118.5l13.6 13.6m0 -13.6l-13.6 13.6M1051.8 128.5l13.6 13.6m0 -13.6l-13.6 13.6M1053.4 131.8l13.6 13.6m0 -13.6l-13.6 13.6M1056.8 136.8l13.6 13.6m0 -13.6l-13.6 13.6M1060.1 141.9l13.6 13.6m0 -13.6l-13.6 13.6M1057.6 145.2l13.6 13.6m0 -13.6l-13.6 13.6M1068.5 155.2l13.6 13.6m0 -13.6l-13.6 13.6M1016.6 161.9l13.6 13.6m0 -13.6l-13.6 13.6M1013.3 168.6l13.6 13.6m0 -13.6l-13.6 13.6M1008.3 173.6l13.6 13.6m0 -13.6l-13.6 13.6M1018.3 175.3l13.6 13.6m0 -13.6l-13.6 13.6M983.2 175.3l13.6 13.6m0 -13.6l-13.6 13.6M1050.2 126.2l13.6 13.6m0 -13.6l-13.6 13.6M1059.6 140.2l13.6 13.6m0 -13.6l-13.6 13.6M1076.0 205.6l13.6 13.6m0 -13.6l-13.6 13.6M1064.3 235.2l13.6 13.6m0 -13.6l-13.6 13.6M1072.9 232.1l13.6 13.6m0 -13.6l-13.6 13.6M1094.6 241.4l13.6 13.6m0 -13.6l-13.6 13.6M1062.7 249.2l13.6 13.6m0 -13.6l-13.6 13.6M1061.2 251.2l13.6 13.6m0 -13.6l-13.6 13.6M1070.2 257.5l13.6 13.6m0 -13.6l-13.6 13.6M1078.2 261.2l13.6 13.6m0 -13.6l-13.6 13.6M1084.4 277.2l13.6 13.6m0 -13.6l-13.6 13.6M1091.6 264.7l13.6 13.6m0 -13.6l-13.6 13.6M1097.0 268.2l13.6 13.6m0 -13.6l-13.6 13.6M1088.9 281.7l13.6 13.6m0 -13.6l-13.6 13.6M1099.7 288.0l13.6 13.6m0 -13.6l-13.6 13.6M1086.2 305.0l13.6 13.6m0 -13.6l-13.6 13.6M1097.9 348.0l13.6 13.6m0 -13.6l-13.6 13.6M1094.2 244.2l13.6 13.6m0 -13.6l-13.6 13.6M1101.6 444.2l13.6 13.6m0 -13.6l-13.6 13.6M1103.7 461.4l13.6 13.6m0 -13.6l-13.6 13.6M1115.6 463.5l13.6 13.6m0 -13.6l-13.6 13.6M1118.8 471.0l13.6 13.6m0 -13.6l-13.6 13.6M1108.0 504.4l13.6 13.6m0 -13.6l-13.6 13.6M1110.2 529.2l13.6 13.6m0 -13.6l-13.6 13.6M1122.0 497.9l13.6 13.6m0 -13.6l-13.6 13.6M1126.3 504.4l13.6 13.6m0 -13.6l-13.6 13.6M1130.6 507.6l13.6 13.6m0 -13.6l-13.6 13.6M243.2 558.2l13.6 13.6m0 -13.6l-13.6 13.6M246.2 553.2l13.6 13.6m0 -13.6l-13.6 13.6M250.2 549.2l13.6 13.6m0 -13.6l-13.6 13.6M255.2 546.2l13.6 13.6m0 -13.6l-13.6 13.6M258.2 553.2l13.6 13.6m0 -13.6l-13.6 13.6M253.2 563.2l13.6 13.6m0 -13.6l-13.6 13.6M240.2 565.2l13.6 13.6m0 -13.6l-13.6 13.6M401.2 551.2l13.6 13.6m0 -13.6l-13.6 13.6M404.2 541.2l13.6 13.6m0 -13.6l-13.6 13.6M406.2 563.2l13.6 13.6m0 -13.6l-13.6 13.6M409.2 533.2l13.6 13.6m0 -13.6l-13.6 13.6M411.2 578.2l13.6 13.6m0 -13.6l-13.6 13.6M413.2 548.2l13.6 13.6m0 -13.6l-13.6 13.6M416.2 538.2l13.6 13.6m0 -13.6l-13.6 13.6M423.2 528.2l13.6 13.6m0 -13.6l-13.6 13.6M428.2 521.2l13.6 13.6m0 -13.6l-13.6 13.6M440.2 483.2l13.6 13.6m0 -13.6l-13.6 13.6M1136.0 521.6l13.6 13.6m0 -13.6l-13.6 13.6M1138.2 532.3l13.6 13.6m0 -13.6l-13.6 13.6M1106.2 508.2l13.6 13.6m0 -13.6l-13.6 13.6M1117.2 498.2l13.6 13.6m0 -13.6l-13.6 13.6M1120.2 503.2l13.6 13.6m0 -13.6l-13.6 13.6M1128.2 510.2l13.6 13.6m0 -13.6l-13.6 13.6M1132.2 514.2l13.6 13.6m0 -13.6l-13.6 13.6M1134.2 518.2l13.6 13.6m0 -13.6l-13.6 13.6M277.1 543.6l13.6 13.6m0 -13.6l-13.6 13.6M285.8 541.6l13.6 13.6m0 -13.6l-13.6 13.6M297.4 546.4l13.6 13.6m0 -13.6l-13.6 13.6M302.8 554.6l13.6 13.6m0 -13.6l-13.6 13.6M305.5 557.4l13.6 13.6m0 -13.6l-13.6 13.6M311.7 563.4l13.6 13.6m0 -13.6l-13.6 13.6M320.5 556.8l13.6 13.6m0 -13.6l-13.6 13.6M327.6 559.3l13.6 13.6m0 -13.6l-13.6 13.6M334.0 556.2l13.6 13.6m0 -13.6l-13.6 13.6M339.7 554.6l13.6 13.6m0 -13.6l-13.6 13.6M347.3 558.5l13.6 13.6m0 -13.6l-13.6 13.6M352.5 564.1l13.6 13.6m0 -13.6l-13.6 13.6M366.4 567.3l13.6 13.6m0 -13.6l-13.6 13.6M373.6 567.8l13.6 13.6m0 -13.6l-13.6 13.6M381.0 567.7l13.6 13.6m0 -13.6l-13.6 13.6M386.9 568.3l13.6 13.6m0 -13.6l-13.6 13.6M392.0 579.9l13.6 13.6m0 -13.6l-13.6 13.6M394.5 584.8l13.6 13.6m0 -13.6l-13.6 13.6M396.5 588.0l13.6 13.6m0 -13.6l-13.6 13.6M400.6 593.1l13.6 13.6m0 -13.6l-13.6 13.6M965.6 179.2l13.6 13.6m0 -13.6l-13.6 13.6M971.6 179.7l13.6 13.6m0 -13.6l-13.6 13.6M975.5 178.7l13.6 13.6m0 -13.6l-13.6 13.6M982.4 178.9l13.6 13.6m0 -13.6l-13.6 13.6M984.7 184.1l13.6 13.6m0 -13.6l-13.6 13.6M988.4 192.9l13.6 13.6m0 -13.6l-13.6 13.6M988.1 196.2l13.6 13.6m0 -13.6l-13.6 13.6M989.7 201.3l13.6 13.6m0 -13.6l-13.6 13.6M996.1 203.7l13.6 13.6m0 -13.6l-13.6 13.6M1000.2 201.8l13.6 13.6m0 -13.6l-13.6 13.6M1005.1 191.4l13.6 13.6m0 -13.6l-13.6 13.6M1006.9 183.9l13.6 13.6m0 -13.6l-13.6 13.6M1009.0 176.8l13.6 13.6m0 -13.6l-13.6 13.6M1013.1 173.9l13.6 13.6m0 -13.6l-13.6 13.6M1015.2 169.1l13.6 13.6m0 -13.6l-13.6 13.6" stroke="#ff0000" stroke-width="1.7" fill="none"/>
</g>
<rect x="65.2" y="31.3" width="1131.3" height="749.8000000000001" fill="none" stroke="#3a3a3a" stroke-width="1.5"/>
<line x1="59.2" y1="747.25" x2="65.2" y2="747.25" stroke="#3a3a3a" stroke-width="1.4"/>
<text x="52.5" y="753.25" font-size="17" text-anchor="end" textLength="9.3" lengthAdjust="spacingAndGlyphs">0</text>
<line x1="59.2" y1="651.51" x2="65.2" y2="651.51" stroke="#3a3a3a" stroke-width="1.4"/>
<text x="52.5" y="657.51" font-size="17" text-anchor="end" textLength="9.3" lengthAdjust="spacingAndGlyphs">2</text>
<line x1="59.2" y1="555.78" x2="65.2" y2="555.78" stroke="#3a3a3a" stroke-width="1.4"/>
<text x="52.5" y="561.78" font-size="17" text-anchor="end" textLength="9.3" lengthAdjust="spacingAndGlyphs">4</text>
<line x1="59.2" y1="460.04" x2="65.2" y2="460.04" stroke="#3a3a3a" stroke-width="1.4"/>
<text x="52.5" y="466.04" font-size="17" text-anchor="end" textLength="9.3" lengthAdjust="spacingAndGlyphs">6</text>
<line x1="59.2" y1="364.31" x2="65.2" y2="364.31" stroke="#3a3a3a" stroke-width="1.4"/>
<text x="52.5" y="370.31" font-size="17" text-anchor="end" textLength="9.3" lengthAdjust="spacingAndGlyphs">8</text>
<line x1="59.2" y1="268.57" x2="65.2" y2="268.57" stroke="#3a3a3a" stroke-width="1.4"/>
<text x="52.5" y="274.57" font-size="17" text-anchor="end" textLength="19" lengthAdjust="spacingAndGlyphs">10</text>
<line x1="59.2" y1="172.83" x2="65.2" y2="172.83" stroke="#3a3a3a" stroke-width="1.4"/>
<text x="52.5" y="178.83" font-size="17" text-anchor="end" textLength="19" lengthAdjust="spacingAndGlyphs">12</text>
<line x1="59.2" y1="77.10" x2="65.2" y2="77.10" stroke="#3a3a3a" stroke-width="1.4"/>
<text x="52.5" y="83.10" font-size="17" text-anchor="end" textLength="19" lengthAdjust="spacingAndGlyphs">14</text>
<line x1="121.25" y1="781.1" x2="121.25" y2="787.1" stroke="#3a3a3a" stroke-width="1.4"/>
<text x="121.25" y="806.3" font-size="17" text-anchor="middle" textLength="53" lengthAdjust="spacingAndGlyphs">85000</text>
<line x1="271.59" y1="781.1" x2="271.59" y2="787.1" stroke="#3a3a3a" stroke-width="1.4"/>
<text x="271.59" y="806.3" font-size="17" text-anchor="middle" textLength="53" lengthAdjust="spacingAndGlyphs">86000</text>
<line x1="421.93" y1="781.1" x2="421.93" y2="787.1" stroke="#3a3a3a" stroke-width="1.4"/>
<text x="421.93" y="806.3" font-size="17" text-anchor="middle" textLength="53" lengthAdjust="spacingAndGlyphs">87000</text>
<line x1="572.27" y1="781.1" x2="572.27" y2="787.1" stroke="#3a3a3a" stroke-width="1.4"/>
<text x="572.27" y="806.3" font-size="17" text-anchor="middle" textLength="53" lengthAdjust="spacingAndGlyphs">88000</text>
<line x1="722.61" y1="781.1" x2="722.61" y2="787.1" stroke="#3a3a3a" stroke-width="1.4"/>
<text x="722.61" y="806.3" font-size="17" text-anchor="middle" textLength="53" lengthAdjust="spacingAndGlyphs">89000</text>
<line x1="872.95" y1="781.1" x2="872.95" y2="787.1" stroke="#3a3a3a" stroke-width="1.4"/>
<text x="872.95" y="806.3" font-size="17" text-anchor="middle" textLength="53" lengthAdjust="spacingAndGlyphs">90000</text>
<line x1="1023.29" y1="781.1" x2="1023.29" y2="787.1" stroke="#3a3a3a" stroke-width="1.4"/>
<text x="1023.29" y="806.3" font-size="17" text-anchor="middle" textLength="53" lengthAdjust="spacingAndGlyphs">91000</text>
<line x1="1173.63" y1="781.1" x2="1173.63" y2="787.1" stroke="#3a3a3a" stroke-width="1.4"/>
<text x="1173.63" y="806.3" font-size="17" text-anchor="middle" textLength="53" lengthAdjust="spacingAndGlyphs">92000</text>
<text x="1196" y="826.6" font-size="17" text-anchor="end" textLength="92.5" lengthAdjust="spacingAndGlyphs">+1.5027e9</text>
<text x="631.25" y="21.8" font-size="27" style="stroke-width:0.4px" text-anchor="middle" textLength="378" lengthAdjust="spacingAndGlyphs">EDA Signal with SCR Events</text>
<text x="629.75" y="834.5" font-size="23.3" style="stroke-width:0.35px" text-anchor="middle" textLength="60" lengthAdjust="spacingAndGlyphs">Time</text>
<text transform="translate(20,405.4) rotate(-90)" font-size="23.3" style="stroke-width:0.35px" text-anchor="middle" textLength="199" lengthAdjust="spacingAndGlyphs">EDA Signal Value</text>
<rect x="75" y="41.8" width="189.2" height="64.2" rx="4" fill="#fff" fill-opacity="0.8" stroke="#d4d4d4" stroke-width="1.3"/>
<line x1="82" y1="57.7" x2="124.7" y2="57.7" stroke="#1f77b4" stroke-width="2.6" stroke-linecap="butt"/>
<text x="140.8" y="65.7" font-size="20" style="stroke-width:0.3px" textLength="109.5" lengthAdjust="spacingAndGlyphs">EDA Signal</text>
<path d="M96.5 80.9l13.6 13.6M96.5 94.5l13.6 -13.6" stroke="#ff0000" stroke-width="1.7"/>
<text x="140.8" y="95.2" font-size="20" style="stroke-width:0.3px" textLength="115.5" lengthAdjust="spacingAndGlyphs">SCR Events</text>
</svg></body></html>
